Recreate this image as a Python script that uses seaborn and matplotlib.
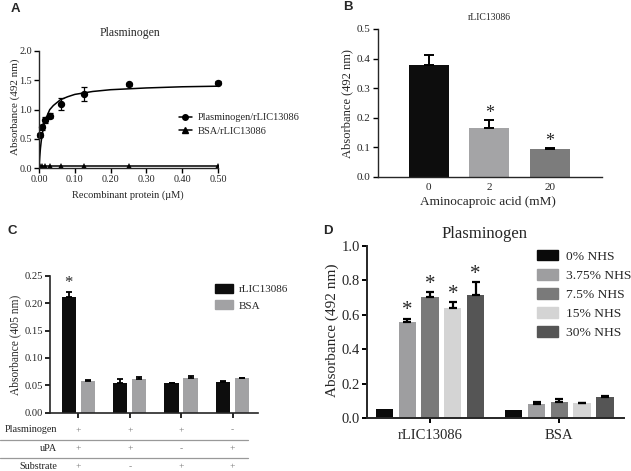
import numpy as np
import pandas as pd
import seaborn as sns
import matplotlib.pyplot as plt
from matplotlib.lines import Line2D
from matplotlib.patches import Patch
from matplotlib import transforms

# ---- A: binding curve
conc = [0.0039, 0.0078, 0.0156, 0.03125, 0.0625, 0.125, 0.25, 0.5]
plg_abs = [0.57, 0.70, 0.82, 0.90, 1.10, 1.27, 1.43, 1.46]
plg_err = [0.03, 0.04, 0.05, 0.04, 0.10, 0.12, 0.03, 0.02]
bsa_abs = [0.035, 0.035, 0.035, 0.035, 0.035, 0.035, 0.035, 0.035]
fit_x = [0, 0.002, 0.004, 0.006, 0.008, 0.012, 0.016, 0.02, 0.03, 0.04,
         0.06, 0.08, 0.1, 0.15, 0.2, 0.3, 0.4, 0.5]
fit_y = [0, 0.19, 0.34, 0.45, 0.54, 0.68, 0.79, 0.86, 1.0, 1.07,
         1.17, 1.22, 1.26, 1.31, 1.34, 1.37, 1.39, 1.40]

# ---- B: aminocaproic acid
eaca_labels = ['0', '2', '20']
eaca_abs = [0.38, 0.167, 0.094]
eaca_err = [0.032, 0.024, 0.005]
eaca_sig = [False, True, True]

# ---- C: plasmin activity
c_groups = ['g1', 'g2', 'g3', 'g4']
c_rlic = [0.212, 0.055, 0.0535, 0.056]
c_rlic_err = [0.009, 0.006, 0.001, 0.001]
c_bsa = [0.058, 0.061, 0.064, 0.063]
c_bsa_err = [0.002, 0.005, 0.0025, 0.0012]
c_sig = [[True, False, False, False], [False, False, False, False]]
plasminogen_row = ['+', '+', '+', '-']
upa_row = ['+', '+', '-', '+']
substrate_row = ['+', '-', '+', '+']

# ---- D: NHS
nhs_levels = ['0% NHS', '3.75% NHS', '7.5% NHS', '15% NHS', '30% NHS']
d_proteins = ['rLIC13086', 'BSA']
d_rlic = [0.056, 0.559, 0.704, 0.638, 0.714]
d_rlic_err = [0.0, 0.019, 0.027, 0.037, 0.075]
d_bsa = [0.048, 0.082, 0.092, 0.088, 0.122]
d_bsa_err = [0.0, 0.012, 0.02, 0.003, 0.006]
d_sig = [[False, True, True, True, True], [False, False, False, False, False]]

sns.set_style('ticks')
plt.rcParams['font.family'] = ['Liberation Serif', 'DejaVu Serif']

W, H = 631, 471
fig = plt.figure(figsize=(W / 100, H / 100), dpi=100)


def px_axes(l, t, r, b):
    return fig.add_axes([l / W, 1 - b / H, (r - l) / W, (b - t) / H])


def ftext(x, y, s, **kw):
    fig.text(x / W, 1 - y / H, s, **kw)


def style(ax, lw, size):
    sns.despine(ax=ax)
    for s in ['left', 'bottom']:
        ax.spines[s].set_linewidth(lw)
    ax.tick_params(width=lw, length=3.5, labelsize=size, pad=1.5, color='black')


def bar_errors(ax, conts, errs, sigs, lw, cap, star_off, star_size):
    for cont, err, sig in zip(conts, errs, sigs):
        for bar, e, s in zip(cont, err, sig):
            x = bar.get_x() + bar.get_width() / 2
            y = bar.get_height()
            if e > 0:
                ax.errorbar(x, y, yerr=[[0], [e]], fmt='none', ecolor='black',
                            elinewidth=lw, capsize=cap, capthick=lw)
            if s:
                ax.text(x, y + e + star_off, '*', ha='center', va='center',
                        fontsize=star_size)


# ================= A
axA = px_axes(39, 51, 218, 168.3)
sns.lineplot(x=fit_x, y=fit_y, ax=axA, color='black', lw=1.1)
sns.lineplot(x=conc, y=bsa_abs, ax=axA, color='black', lw=1.1, marker='^',
             markersize=4, markeredgewidth=0)
axA.errorbar(conc, plg_abs, yerr=plg_err, fmt='o', color='black', ms=4.3,
             elinewidth=0.9, capsize=2, capthick=0.9, clip_on=False)
axA.set_xlim(0, 0.5)
axA.set_ylim(0, 2.0)
axA.set_xticks([0, 0.1, 0.2, 0.3, 0.4, 0.5])
axA.set_xticklabels(['0.00', '0.10', '0.20', '0.30', '0.40', '0.50'])
axA.set_yticks([0, 0.5, 1.0, 1.5, 2.0])
axA.set_yticklabels(['0.0', '0.5', '1.0', '1.5', '2.0'])
style(axA, 1.0, 7.3)
hA = [Line2D([], [], color='black', marker='o', ms=4, lw=1.1),
      Line2D([], [], color='black', marker='^', ms=4, lw=1.1)]
fig.legend(hA, ['Plasminogen/rLIC13086', 'BSA/rLIC13086'], loc='center left',
           bbox_to_anchor=(174 / W, 1 - 124.5 / H), frameon=False, fontsize=7.5,
           handlelength=1.2, handletextpad=0.6, labelspacing=0.45, borderpad=0)
ftext(130, 33, 'Plasminogen', ha='center', va='center', fontsize=8.5)
ftext(15, 107, 'Absorbance (492 nm)', rotation=90, ha='center', va='center', fontsize=8)
ftext(128, 195, 'Recombinant protein (\u00b5M)', ha='center', va='center', fontsize=7.5)

# ================= B
axB = px_axes(377.7, 29, 601.7, 177)
sns.barplot(x=eaca_labels, y=eaca_abs, hue=eaca_labels, legend=False,
            palette=['#0d0d0d', '#a4a4a6', '#7c7c7c'], width=0.66, lw=0, ax=axB)
bars_B = [list(c) for c in axB.containers]
bar_errors(axB, bars_B, [[e] for e in eaca_err], [[s] for s in eaca_sig],
           1.4, 3.5, 0.022, 13)
axB.set_xlim(-0.84, 2.85)
axB.set_ylim(0, 0.5)
axB.set_yticks([0, 0.1, 0.2, 0.3, 0.4, 0.5])
axB.set_yticklabels(['0.0', '0.1', '0.2', '0.3', '0.4', '0.5'])
style(axB, 1.0, 8)
axB.tick_params(axis='x', length=0, pad=4)
axB.set_xlabel('')
axB.set_ylabel('')
ftext(489, 17, 'rLIC13086', ha='center', va='center', fontsize=7)
ftext(347, 104, 'Absorbance (492 nm)', rotation=90, ha='center', va='center', fontsize=9)
ftext(488, 202, 'Aminocaproic acid (mM)', ha='center', va='center', fontsize=9.5)

# ================= C
dfc = pd.DataFrame({'group': c_groups * 2,
                    'series': ['rLIC13086'] * 4 + ['BSA'] * 4,
                    'value': c_rlic + c_bsa})
axC = px_axes(50, 275.7, 258.3, 412.7)
sns.barplot(data=dfc, x='group', y='value', hue='series', order=c_groups,
            palette=['#0d0d0d', '#a2a2a4'], width=0.74, gap=0.24, lw=0,
            legend=False, ax=axC)
bars_C = [list(c) for c in axC.containers]
bar_errors(axC, bars_C, [c_rlic_err, c_bsa_err], c_sig, 1.3, 2.5, 0.0155, 12)
axC.set_xlim(-0.55, 3.5)
axC.set_ylim(0, 0.25)
axC.set_yticks([0, 0.05, 0.10, 0.15, 0.20, 0.25])
axC.set_yticklabels(['0.00', '0.05', '0.10', '0.15', '0.20', '0.25'])
axC.set_xticklabels([])
style(axC, 1.2, 7.6)
axC.set_xlabel('')
axC.set_ylabel('')
hC = [Patch(color='#0d0d0d'), Patch(color='#a2a2a4')]
fig.legend(hC, ['rLIC13086', 'BSA'], loc='upper left',
           bbox_to_anchor=(209 / W, 1 - 278 / H), frameon=False, fontsize=8,
           handlelength=1.7, handleheight=0.9, handletextpad=0.5,
           labelspacing=0.55, borderpad=0)
ftext(15, 345, 'Absorbance (405 nm)', rotation=90, ha='center', va='center', fontsize=8.3)

# table under C
trans = transforms.blended_transform_factory(axC.transData, fig.transFigure)
rows = [('Plasminogen', plasminogen_row, 430), ('uPA', upa_row, 448.7),
        ('Substrate', substrate_row, 466.7)]
for name, signs, ypx in rows:
    ftext(57, ypx, name, ha='right', va='center', fontsize=7.3, color='#222222')
    for i, s in enumerate(signs):
        axC.text(i, 1 - ypx / H, s, transform=trans, ha='center', va='center',
                 fontsize=6.8, color='#777777')
for ypx in [440, 457.7]:
    fig.add_artist(Line2D([0, 248 / W], [1 - ypx / H, 1 - ypx / H],
                          color='#999999', lw=0.9))

# ================= D
dfd = pd.DataFrame({'protein': d_proteins * 5,
                    'nhs': [lv for lv in nhs_levels for _ in d_proteins],
                    'value': [v for pair in zip(d_rlic, d_bsa) for v in pair]})
d_colors = ['#0a0a0a', '#9e9ea0', '#7a7a7a', '#d4d4d4', '#555555']
axD = px_axes(366.7, 246, 624, 418.3)
sns.barplot(data=dfd, x='protein', y='value', hue='nhs', order=d_proteins,
            hue_order=nhs_levels, palette=d_colors, width=0.88, gap=0.24, lw=0,
            legend=False, ax=axD)
bars_D = [list(c) for c in axD.containers]
d_errs = [[r, b] for r, b in zip(d_rlic_err, d_bsa_err)]
d_sigs = [[r, b] for r, b in zip(d_sig[0], d_sig[1])]
bar_errors(axD, bars_D, d_errs, d_sigs, 1.6, 2.8, 0.045, 15)
axD.set_xlim(-0.49, 1.5)
axD.set_ylim(0, 1.0)
axD.set_yticks([0, 0.2, 0.4, 0.6, 0.8, 1.0])
axD.set_yticklabels(['0.0', '0.2', '0.4', '0.6', '0.8', '1.0'])
style(axD, 1.4, 10.5)
axD.tick_params(axis='x', pad=4)
axD.set_xlabel('')
axD.set_ylabel('')
hD = [Patch(color=c) for c in d_colors]
fig.legend(hD, nhs_levels, loc='upper left',
           bbox_to_anchor=(530 / W, 1 - 243 / H), frameon=False, fontsize=9.7,
           handlelength=1.6, handleheight=0.85, handletextpad=0.55,
           labelspacing=0.45, borderpad=0)
ftext(485, 234, 'Plasminogen', ha='center', va='center', fontsize=12)
ftext(332, 330, 'Absorbance (492 nm)', rotation=90, ha='center', va='center', fontsize=11)

# panel letters
for lab, xp, yp in [('A', 15, 9), ('B', 348, 7.5), ('C', 12, 231), ('D', 328, 231)]:
    ftext(xp, yp, lab, ha='center', va='center', fontsize=9.5, fontweight='bold',
          family='Liberation Sans')

fig.savefig('out.png', dpi=100)
